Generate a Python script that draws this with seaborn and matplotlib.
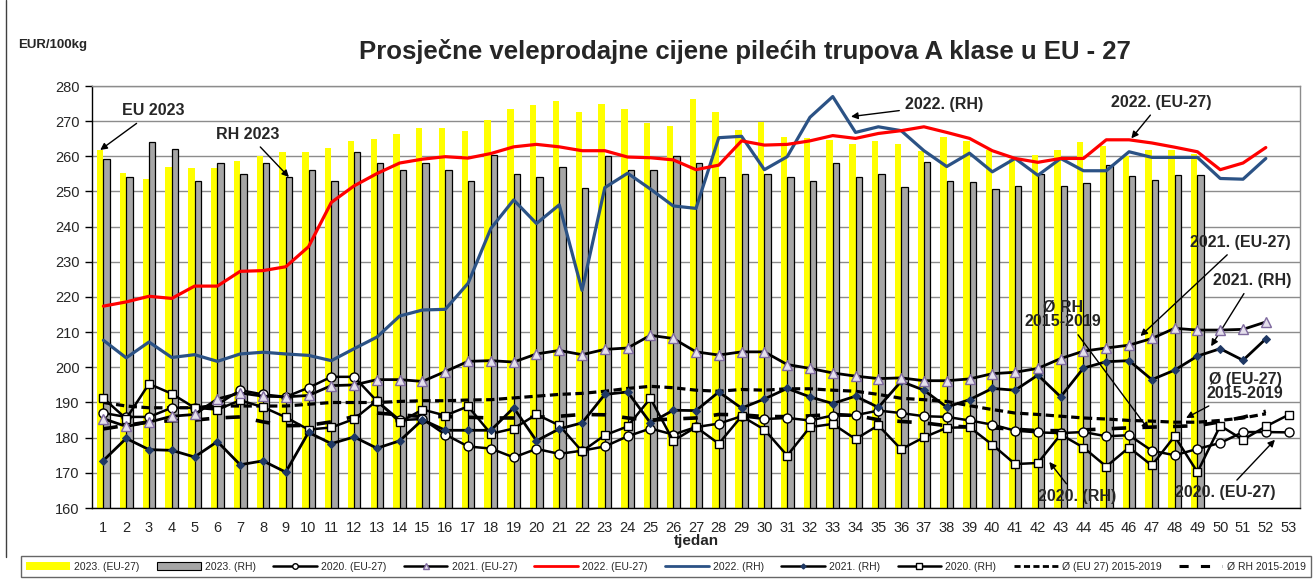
import numpy as np
import pandas as pd
import matplotlib.pyplot as plt
import seaborn as sns
from matplotlib.lines import Line2D
from matplotlib.patches import Patch

# weekly prices, EUR/100kg
weeks23 = list(range(1, 50))
eu23 = [261.8, 255.4, 253.5, 257.1, 256.7, 256.7, 258.6, 260.0, 261.3, 261.1,
        262.5, 264.3, 264.9, 266.4, 268.0, 268.1, 267.1, 270.2, 273.4, 274.6,
        275.7, 272.7, 274.8, 273.6, 269.5, 268.5, 276.3, 272.7, 267.4, 269.8,
        265.5, 265.1, 264.7, 263.4, 264.3, 263.5, 261.6, 265.5, 264.3, 261.7,
        259.2, 260.3, 261.8, 264.0, 262.8, 260.2, 261.9, 261.9, 260.7]
rh23 = [259.2, 254.1, 264.1, 262.1, 253.1, 258.2, 255.0, 258.1, 254.1, 256.2,
        253.1, 261.1, 258.1, 256.2, 258.1, 256.2, 253.1, 260.5, 255.0, 254.1,
        257.0, 251.0, 260.0, 256.2, 256.2, 260.0, 258.1, 254.0, 255.0, 255.0,
        254.0, 253.1, 258.1, 254.0, 255.0, 251.4, 258.3, 253.0, 252.8, 250.7,
        251.7, 255.1, 251.6, 252.5, 257.5, 254.4, 253.4, 254.6, 254.8]

weeks52 = list(range(1, 53))
weeks53 = list(range(1, 54))
eu22 = [217.4, 218.6, 220.2, 219.6, 223.1, 223.1, 227.3, 227.5, 228.6, 234.3,
        246.9, 251.6, 255.1, 258.1, 259.2, 259.9, 259.5, 260.8, 262.7, 263.4,
        262.7, 261.6, 261.6, 259.8, 259.6, 259.0, 256.2, 257.5, 264.4, 263.2,
        263.4, 264.4, 265.9, 265.1, 266.5, 267.3, 268.4, 266.8, 265.1, 261.6,
        259.4, 258.3, 259.4, 259.4, 264.7, 264.7, 263.8, 262.6, 261.3, 256.2,
        258.1, 262.5]
rh22 = [207.7, 202.7, 207.2, 202.8, 203.6, 201.7, 203.8, 204.3, 203.8, 203.4,
        201.9, 205.3, 208.6, 214.6, 216.3, 216.5, 223.9, 239.5, 247.6, 240.9,
        246.2, 221.9, 251.1, 255.2, 250.7, 245.9, 245.2, 265.3, 265.7, 256.2,
        259.9, 271.1, 277.0, 266.8, 268.4, 267.3, 261.6, 257.1, 260.9, 255.6,
        259.4, 254.6, 259.4, 255.9, 255.9, 261.3, 259.7, 259.7, 259.7, 253.7,
        253.5, 259.4]
eu21 = [185.4, 183.2, 184.4, 186.1, 186.6, 191.0, 192.7, 191.8, 191.6, 192.0,
        194.8, 195.0, 196.5, 196.5, 196.0, 198.8, 201.7, 201.9, 201.5, 203.8,
        204.8, 203.6, 205.1, 205.5, 209.1, 208.2, 204.4, 203.5, 204.4, 204.4,
        200.8, 199.7, 198.4, 197.5, 196.8, 197.0, 196.2, 196.2, 196.7, 198.2,
        198.6, 199.7, 202.5, 204.6, 205.5, 206.3, 208.2, 211.1, 210.6, 210.6,
        210.8, 212.9]
rh21 = [173.5, 179.8, 176.6, 176.4, 174.5, 178.9, 172.3, 173.4, 170.2, 181.5,
        178.3, 180.2, 177.0, 179.1, 185.1, 182.1, 182.1, 182.1, 188.5, 179.1,
        182.5, 184.2, 192.3, 193.0, 184.2, 187.8, 187.7, 193.0, 188.4, 191.0,
        194.0, 191.6, 189.7, 191.8, 188.6, 196.0, 193.5, 188.7, 190.8, 194.0,
        193.5, 197.8, 191.6, 199.8, 201.6, 201.9, 196.5, 199.2, 203.2, 205.3,
        202.0, 208.1]
eu20 = [187.0, 185.9, 185.9, 188.5, 188.5, 189.4, 193.5, 192.3, 191.6, 194.2,
        197.3, 197.3, 190.4, 185.0, 185.3, 180.9, 177.5, 176.9, 174.4, 176.8,
        175.4, 176.3, 177.5, 180.4, 182.6, 180.9, 183.0, 184.0, 186.1, 185.3,
        185.6, 184.9, 186.3, 186.4, 187.7, 187.0, 186.1, 185.9, 184.9, 183.7,
        182.0, 181.5, 181.3, 181.6, 180.4, 180.7, 176.3, 175.0, 176.8, 178.5,
        181.6, 181.6, 181.5]
rh20 = [191.2, 185.4, 195.3, 192.5, 188.5, 188.0, 190.6, 188.7, 185.8, 182.3,
        182.9, 185.3, 190.5, 184.4, 188.0, 186.3, 188.9, 181.1, 182.6, 186.6,
        183.5, 176.1, 180.7, 183.2, 191.2, 179.1, 183.0, 178.3, 186.1, 182.3,
        174.9, 183.0, 183.9, 179.6, 183.5, 176.7, 180.1, 182.8, 183.0, 178.0,
        172.5, 172.8, 180.9, 177.2, 171.8, 177.2, 172.1, 180.4, 170.2, 183.4,
        179.4, 183.2, 186.5]
avg_eu = [190.0, 189.0, 188.5, 188.5, 188.5, 189.0, 189.0, 189.0, 189.0, 189.5,
          190.0, 190.0, 190.0, 190.3, 190.5, 190.5, 190.7, 190.8, 191.3, 191.8,
          192.3, 192.6, 193.2, 194.0, 194.6, 194.2, 193.5, 193.2, 193.7, 193.5,
          193.9, 193.9, 193.5, 193.2, 192.3, 191.2, 190.8, 190.3, 189.1, 188.0,
          187.0, 186.6, 186.1, 185.6, 185.3, 184.9, 184.7, 184.4, 184.4, 184.9,
          185.6, 186.8]
avg_rh = [182.5, 183.5, 184.5, 184.8, 185.0, 185.6, 185.9, 184.5, 183.4, 183.5,
          184.5, 186.0, 187.0, 186.5, 186.0, 186.0, 185.8, 185.6, 185.6, 185.8,
          186.1, 186.6, 186.5, 185.6, 185.0, 185.3, 185.6, 186.6, 186.5, 186.0,
          186.0, 186.2, 186.6, 186.3, 185.1, 184.6, 184.2, 183.4, 183.0, 182.8,
          182.4, 182.0, 182.0, 182.2, 182.5, 182.8, 183.0, 183.2, 183.4, 184.5,
          185.8, 187.5]

sns.set_theme(style="white")
plt.rcParams["font.family"] = ["Liberation Sans", "DejaVu Sans"]

fig = plt.figure(figsize=(13.16, 5.8), dpi=100)
ax = fig.add_axes([92 / 1316, 72 / 580, 1208 / 1316, 422 / 580])

# bars for 2023
bars = pd.DataFrame({
    "tjedan": weeks23 + weeks23,
    "cijena": eu23 + rh23,
    "serija": ["2023. (EU-27)"] * len(eu23) + ["2023. (RH)"] * len(rh23),
})
sns.barplot(data=bars, x="tjedan", y="cijena", hue="serija",
            palette={"2023. (EU-27)": "#FFFF00", "2023. (RH)": "#A6A6A6"},
            native_scale=True, width=0.56, dodge=True, errorbar=None,
            saturation=1, legend=False, ax=ax, zorder=2)
for p in ax.patches:
    if np.allclose(p.get_facecolor()[:3], (0.651, 0.651, 0.651), atol=0.01):
        p.set_edgecolor("black")
        p.set_linewidth(0.9)
    else:
        p.set_edgecolor("none")

# lines
sns.lineplot(x=weeks52, y=avg_eu, ax=ax, color="black", lw=2.3, zorder=3)
ax.lines[-1].set_dashes([2.6, 1.4])
sns.lineplot(x=weeks52, y=avg_rh, ax=ax, color="black", lw=2.6, zorder=3)
ax.lines[-1].set_dashes([4, 4.5])
sns.lineplot(x=weeks53, y=eu20, ax=ax, color="black", lw=1.8, marker="o",
             markersize=6.5, markerfacecolor="white", markeredgecolor="black",
             markeredgewidth=1.0, zorder=4)
sns.lineplot(x=weeks53, y=rh20, ax=ax, color="black", lw=1.8, marker="s",
             markersize=6, markerfacecolor="white", markeredgecolor="black",
             markeredgewidth=1.0, zorder=4)
sns.lineplot(x=weeks52, y=rh21, ax=ax, color="black", lw=2.0, marker="D",
             markersize=3.8, markerfacecolor="#1F3864", markeredgecolor="#1F3864",
             zorder=4)
sns.lineplot(x=weeks52, y=eu21, ax=ax, color="black", lw=2.0, marker="^",
             markersize=7, markerfacecolor="#E4DFEC", markeredgecolor="#7F6A9E",
             markeredgewidth=1.0, zorder=4)
sns.lineplot(x=weeks52, y=rh22, ax=ax, color="#2B5285", lw=2.3, zorder=5)
sns.lineplot(x=weeks52, y=eu22, ax=ax, color="#FF0000", lw=2.3, zorder=5)

ax.set_xlim(0.5, 53.5)
ax.set_ylim(160, 280)
ax.set_xticks(weeks53)
ax.set_xticklabels([str(w) for w in weeks53], fontsize=10.5)
ax.set_yticks(range(160, 281, 10))
ax.set_yticklabels([str(v) for v in range(160, 281, 10)], fontsize=10.5)
ax.tick_params(axis="x", length=0, pad=9)
ax.tick_params(axis="y", length=5, width=1, color="black", direction="out", pad=4, left=True)
ax.set_axisbelow(True)
ax.yaxis.grid(True, color="#8C8C8C", lw=1)
ax.set_xlabel("tjedan", fontsize=11, fontweight="bold", labelpad=0)
ax.set_ylabel("")
for side in ["left", "bottom"]:
    ax.spines[side].set_color("black")
    ax.spines[side].set_linewidth(1)
for side in ["top", "right"]:
    ax.spines[side].set_color("#8C8C8C")
    ax.spines[side].set_linewidth(1)

# annotations
arrow = dict(arrowstyle="-|>", color="black", lw=1, mutation_scale=10, shrinkA=2, shrinkB=0)
ann = dict(fontsize=11.5, fontweight="bold", ha="center", va="center", arrowprops=arrow)
ax.annotate("EU 2023", xy=(0.86, eu23[0]), xytext=(3.2, 272.9), **ann)
ax.annotate("RH 2023", xy=(9.14, rh23[8]), xytext=(7.35, 266.3), **ann)
ax.annotate("2022. (RH)", xy=(33.8, 271.3), xytext=(37.9, 274.6), **ann)
ax.annotate("2022. (EU-27)", xy=(46.1, 265.1), xytext=(47.4, 275.4), **ann)
ax.annotate("2021. (EU-27)", xy=(46.5, 208.9), xytext=(50.9, 235.6), **ann)
ax.annotate("2021. (RH)", xy=(49.6, 206.0), xytext=(51.4, 224.7), **ann)
ax.annotate("Ø RH\n2015-2019", xy=(46.86, 182.3), xytext=(43.1, 215.0),
            linespacing=0.95, **ann)
ax.annotate("Ø (EU-27)\n2015-2019", xy=(48.5, 185.6), xytext=(51.1, 194.5),
            linespacing=0.95, **ann)
ax.annotate("2020. (RH)", xy=(42.5, 173.1), xytext=(43.7, 163.2), **ann)
ax.annotate("2020. (EU-27)", xy=(52.4, 179.4), xytext=(50.2, 164.3), **ann)

fig.text(18 / 1316, 1 - 45 / 580, "EUR/100kg", fontsize=9.5, fontweight="bold",
         ha="left", va="center")
fig.text(745 / 1316, 1 - 51 / 580,
         "Prosječne veleprodajne cijene pilećih trupova A klase u EU - 27",
         fontsize=18.5, fontweight="bold", ha="center", va="center")

# legend
handles = [
    Patch(facecolor="#FFFF00", edgecolor="none"),
    Patch(facecolor="#A6A6A6", edgecolor="black", linewidth=0.8),
    Line2D([], [], color="black", lw=1.8, marker="o", markersize=4,
           markerfacecolor="white", markeredgecolor="black"),
    Line2D([], [], color="black", lw=1.8, marker="^", markersize=4,
           markerfacecolor="#E4DFEC", markeredgecolor="#7F6A9E"),
    Line2D([], [], color="#FF0000", lw=2),
    Line2D([], [], color="#2B5285", lw=2),
    Line2D([], [], color="black", lw=1.8, marker="D", markersize=2.5,
           markerfacecolor="#1F3864", markeredgecolor="#1F3864"),
    Line2D([], [], color="black", lw=1.8, marker="s", markersize=4,
           markerfacecolor="white", markeredgecolor="black"),
    Line2D([], [], color="black", lw=2, dashes=[2.2, 1.2]),
    Line2D([], [], color="black", lw=2.2, dashes=[3, 4]),
]
labels = ["2023. (EU-27)", "2023. (RH)", "2020. (EU-27)", "2021. (EU-27)",
          "2022. (EU-27)", "2022. (RH)", "2021. (RH)", "2020. (RH)",
          "Ø (EU 27) 2015-2019", "Ø RH 2015-2019"]
leg = fig.legend(handles, labels, loc="lower left", ncol=10,
                 bbox_to_anchor=(16 / 1316, -2 / 580, 1300 / 1316, 25 / 580),
                 mode="expand", fontsize=7.5, handlelength=4.2, handletextpad=0.4,
                 frameon=True, fancybox=False, edgecolor="#404040", borderpad=0.5)
leg.get_frame().set_linewidth(1)

fig.add_artist(Line2D([6 / 1316, 6 / 1316], [23 / 580, 1.0], color="#404040",
                      lw=1, transform=fig.transFigure))

fig.savefig("out.png", dpi=100)
